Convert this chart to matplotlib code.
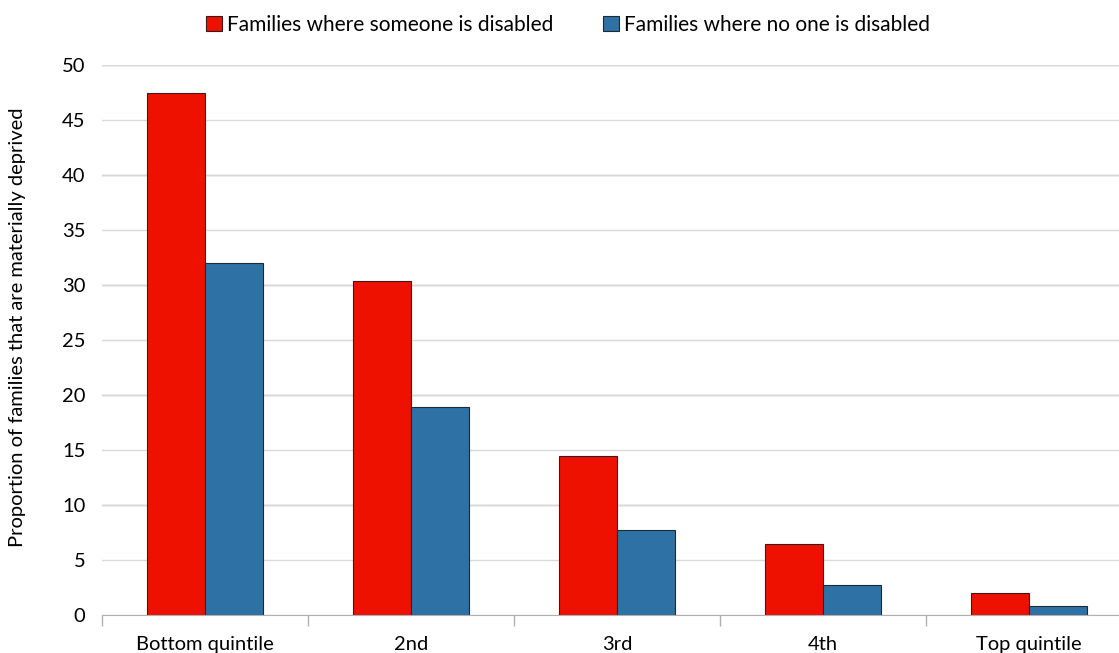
import matplotlib
matplotlib.use("Agg")
import matplotlib.pyplot as plt
import numpy as np
from matplotlib.ticker import MultipleLocator

plt.rcParams["font.family"] = ["Lato", "DejaVu Sans"]

categories = ["Bottom quintile", "2nd", "3rd", "4th", "Top quintile"]
disabled = [47.5, 30.4, 14.5, 6.5, 2.0]
not_disabled = [32.0, 18.9, 7.7, 2.7, 0.8]
series_names = ["Families where someone is disabled", "Families where no one is disabled"]

W, H = 1119, 653
fig = plt.figure(figsize=(W / 100, H / 100), dpi=100)
ax = fig.add_axes([102 / W, (H - 615) / H, (1132 - 102) / W, (615 - 65) / H])

x = np.arange(len(categories))
width = 0.2816
ax.bar(x - width, disabled, width, align="edge", color="#ee1100", edgecolor="#3a1a1a",
       linewidth=0.8, label=series_names[0], zorder=3)
ax.bar(x, not_disabled, width, align="edge", color="#2e71a4", edgecolor="#1c2a36",
       linewidth=0.8, label=series_names[1], zorder=3)

ax.set_xlim(-0.5, len(categories) - 0.5)
ax.set_ylim(0, 50)
ax.yaxis.set_major_locator(MultipleLocator(5))
ax.grid(axis="y", color="#d9d9d9", linewidth=1, zorder=0)
for val in range(10, 51, 10):
    ax.axhline(val, color="#b5b5b5", linewidth=1, zorder=1)

for side in ("top", "right", "left"):
    ax.spines[side].set_visible(False)
ax.spines["bottom"].set_color("#b0b0b0")
ax.spines["bottom"].set_zorder(4)

# category labels centred, tick marks between groups
ax.set_xticks(x)
ax.set_xticklabels(categories, fontsize=14.5)
ax.tick_params(axis="x", length=0, pad=15)
ax.set_xticks(np.arange(-0.5, len(categories), 1), minor=True)
ax.tick_params(axis="x", which="minor", length=8, color="#b0b0b0", width=1)
ax.tick_params(axis="y", length=0, labelsize=14.5, pad=12)

fig.text(18 / W, 1 - 327 / H, "Proportion of families that are materially deprived",
         rotation=90, ha="center", va="center", fontsize=14.5)

ax.legend(loc="center", bbox_to_anchor=((568 - 102) / (1132 - 102), 1 + 40 / 550),
          ncol=2, frameon=False, fontsize=15, handlelength=0.75, handleheight=0.75,
          handletextpad=0.25, columnspacing=2.4, borderaxespad=0)

fig.savefig("out.png", dpi=100)
